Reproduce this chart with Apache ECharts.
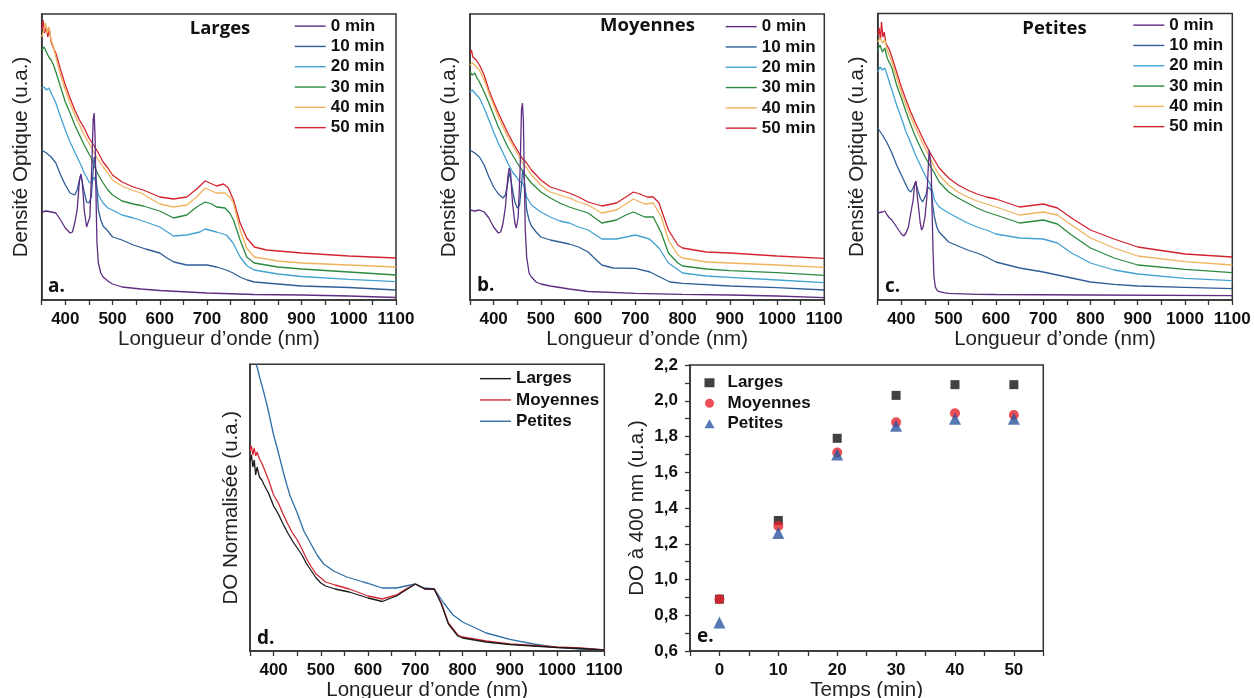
<!DOCTYPE html>
<html><head><meta charset="utf-8">
<script src="https://cdn.jsdelivr.net/npm/echarts@6/dist/echarts.min.js"></script>
<style>html,body{margin:0;padding:0;background:#fff}#c{width:1254px;height:698px}</style>
</head><body><div id="c"></div>
<script>
// ---------- DATA (wavelength nm, optical density in arbitrary units) ----------
const timeLabels = ['0 min','10 min','20 min','30 min','40 min','50 min'];
const sizeLabels = ['Larges','Moyennes','Petites'];

// Panel a — Larges
const a0 = [[350,88],[360,89],[370,88],[380,87],[390,80],[400,72],[410,67],[415,68],[420,77],[425,90],[430,120],[433,126],[436,117],[440,90],[445,73],[448,71],[452,83],[456,133],[459,180],[461,187],[463,163],[465,103],[467,57],[470,37],[475,27],[480,23],[490,19],[500,16],[520,13],[560,11],[600,9.5],[700,7],[800,5.5],[900,5],[1000,4],[1100,2.5]];
const a10 = [[350,150],[360,147],[370,143],[380,137],[390,125],[400,115],[410,107],[415,106],[420,105],[425,110],[430,120],[433,125],[436,123],[440,108],[445,98],[450,97],[455,103],[458,123],[461,143],[463,140],[465,123],[468,103],[470,90],[475,80],[480,74],[490,69],[500,63],[520,60],[544,55],[570,51],[600,47],[615,42],[630,38],[657,35],[700,35],[720,33],[741,30],[755,27],[770,23],[785,20],[800,18],[850,16],[900,14],[1000,12.5],[1100,10]];
const a20 = [[350,212],[355,213],[360,210],[365,212],[370,207],[380,197],[390,183],[400,170],[410,158],[420,148],[430,138],[435,133],[440,127],[445,123],[450,118],[455,117],[458,120],[461,123],[465,117],[470,105],[480,97],[490,92],[500,90],[520,85],[544,82],[570,78],[600,73],[629,64],[657,65],[685,68],[696,71],[720,68],[741,65],[755,57],[770,43],[785,34],[800,30],[850,26],[900,23.5],[1000,20.7],[1100,18.3]];
const a30 = [[350,250],[355,253],[360,248],[365,243],[370,240],[375,235],[380,228],[390,213],[400,198],[410,187],[420,175],[430,165],[440,155],[450,146],[455,142],[460,135],[465,130],[470,125],[480,117],[490,110],[500,105],[520,99],[544,96],[565,94],[600,89],[629,82],[657,85],[678,93],[696,98],[710,96],[720,93],[738,92],[748,87],[756,80],[770,60],[784,43],[800,37],[850,33],[900,31],[1000,28],[1100,25]];
const a40 = [[350,263],[355,270],[358,277],[362,267],[365,273],[370,260],[375,253],[380,243],[390,225],[400,210],[410,197],[420,185],[430,175],[440,165],[450,157],[460,148],[470,140],[480,133],[490,127],[500,120],[520,114],[540,110],[560,107],[600,96],[629,93],[657,95],[678,103],[696,112],[710,109],[720,107],[738,107],[748,103],[756,97],[770,70],[784,52],[800,43],[850,39],[900,37],[1000,35],[1100,33]];
const a50 = [[350,270],[353,280],[356,267],[360,273],[363,263],[366,272],[370,258],[375,252],[380,247],[390,230],[400,215],[410,202],[420,190],[430,180],[440,172],[450,162],[460,155],[470,147],[480,138],[490,132],[500,125],[520,118],[544,113],[565,110],[600,103],[629,101],[657,103],[678,111],[696,119],[706,117],[720,114],[735,116],[745,112],[756,100],[770,77],[784,62],[800,53],[826,50],[900,47],[1000,44],[1100,42]];

// Panel b — Moyennes
const b0 = [[350,90],[360,89],[370,90],[380,88],[390,82],[400,73],[410,67],[415,68],[420,77],[425,93],[430,123],[433,132],[436,127],[440,97],[445,77],[448,72],[452,83],[456,130],[459,190],[461,197],[463,180],[465,123],[467,70],[470,43],[475,27],[480,23],[490,18],[500,16],[520,14],[560,11],[600,8.5],[700,6.7],[800,5.7],[900,5],[1000,4],[1100,2.3]];
const b10 = [[350,150],[360,147],[370,143],[380,135],[390,123],[400,113],[410,106],[420,102],[425,105],[430,117],[433,127],[436,122],[440,110],[445,98],[450,92],[455,95],[458,110],[461,127],[463,130],[465,120],[468,103],[470,90],[475,80],[480,74],[490,68],[500,63],[520,60],[540,58],[560,56],[580,53],[600,48],[611,43],[629,35],[653,32],[700,31.7],[731,28],[752,23],[773,18],[800,16.7],[900,14],[1000,12.3],[1100,10]];
const b20 = [[350,208],[355,210],[360,207],[370,202],[380,192],[390,180],[400,168],[410,157],[420,147],[430,137],[440,128],[450,122],[455,118],[460,118],[465,113],[470,103],[480,95],[500,88],[520,83],[540,79],[560,77],[580,73],[600,70],[629,61],[660,61],[700,65],[730,61],[750,52],[770,37],[800,27],[850,24],[900,22.7],[1000,20],[1100,17.3]];
const b30 = [[350,228],[355,225],[360,227],[365,222],[370,218],[380,208],[390,197],[400,185],[410,173],[420,163],[430,153],[440,145],[450,137],[460,130],[470,123],[480,117],[500,108],[520,102],[540,97],[560,93],[580,90],[600,87],[629,77],[660,80],[680,85],[696,88],[720,83],[738,83],[755,67],[770,47],[790,37],[800,34],[850,31],[900,29.3],[1000,27.3],[1100,24.7]];
const b40 = [[350,235],[355,237],[360,235],[370,230],[380,220],[390,207],[400,195],[410,183],[420,173],[430,163],[440,155],[450,147],[460,138],[470,132],[480,125],[500,115],[520,108],[540,105],[560,102],[580,98],[600,95],[629,87],[660,90],[680,96],[696,101],[720,96],[738,97],[755,83],[770,60],[790,45],[800,42],[850,38],[900,37],[1000,35],[1100,32.7]];
const b50 = [[350,247],[353,250],[356,243],[360,245],[363,240],[366,242],[370,235],[380,225],[390,210],[400,198],[410,187],[420,177],[430,167],[440,158],[450,150],[460,142],[470,137],[480,130],[500,120],[520,113],[540,110],[560,107],[580,103],[600,98],[629,94],[660,97],[680,103],[696,108],[710,106],[725,103],[738,103],[750,97],[770,70],[790,55],[800,52],[850,48],[900,47],[1000,44],[1100,41.7]];

// Panel c — Petites
const c0 = [[350,87],[360,88],[365,89],[370,85],[375,82],[380,80],[390,73],[400,66],[405,64],[410,67],[415,73],[420,87],[425,100],[428,115],[431,119],[434,103],[437,90],[440,77],[443,70],[446,73],[450,83],[454,103],[457,133],[459,150],[461,151],[463,133],[465,90],[467,50],[469,23],[472,13],[475,10],[480,8.3],[490,7.3],[500,6.7],[560,5.7],[600,5.5],[800,5],[1100,4.3]];
const c10 = [[350,172],[360,165],[370,157],[380,147],[390,135],[400,125],[410,115],[415,110],[420,108],[423,110],[426,113],[430,118],[433,117],[436,108],[440,102],[445,98],[448,98],[452,105],[456,113],[460,115],[463,110],[467,93],[470,83],[475,73],[480,68],[490,63],[500,58],[520,54],[540,50],[560,47],[580,43],[600,38],[650,32],[700,28],[750,23],[800,18],[850,15.7],[900,14],[1000,12.7],[1100,11.3]];
const c20 = [[350,228],[355,233],[360,230],[365,232],[370,225],[380,210],[390,195],[400,182],[410,168],[420,157],[430,145],[440,135],[450,125],[455,120],[460,117],[465,110],[470,100],[480,93],[500,87],[520,82],[540,77],[560,73],[580,70],[600,66],[650,62],[700,61],[730,57],[760,47],[800,37],[850,30],[900,26],[1000,21.7],[1100,19.3]];
const c30 = [[350,250],[355,255],[360,248],[365,252],[370,242],[375,237],[380,232],[390,215],[400,202],[410,188],[420,175],[430,163],[440,153],[450,143],[460,135],[470,127],[480,118],[500,108],[520,102],[540,97],[560,92],[580,88],[600,85],[650,77],[700,80],[730,76],[760,65],[800,52],[850,42],[900,35],[1000,30.7],[1100,27.3]];
const c40 = [[350,258],[355,262],[360,257],[365,260],[370,250],[380,238],[390,223],[400,208],[410,195],[420,183],[430,172],[440,162],[450,152],[460,143],[470,133],[480,125],[500,115],[520,108],[540,103],[560,99],[580,96],[600,93],[650,85],[700,88],[730,85],[760,75],[800,62],[850,52],[900,44],[1000,38.3],[1100,35]];
const c50 = [[350,265],[353,272],[356,260],[358,278],[361,263],[364,268],[367,257],[370,258],[375,250],[380,243],[390,228],[400,213],[410,200],[420,188],[430,177],[440,167],[450,157],[460,148],[470,140],[480,132],[500,122],[520,115],[540,110],[560,106],[580,103],[600,101],[650,93],[700,96],[730,92],[760,82],[800,70],[850,61],[900,53],[1000,46],[1100,43]];

// Panel d — normalised spectra
const dLarges = [[350,190],[353,196],[356,184],[359,191],[362,176],[365,184],[368,178],[370,174],[375,171],[380,166],[390,157],[400,145],[410,137],[420,127],[430,118],[440,110],[450,103],[460,96],[470,87],[480,80],[490,73],[500,68],[510,65],[530,62],[560,59],[600,53],[630,49.5],[660,55],[680,61],[700,67],[720,62],[740,62],[755,47],[770,27],[790,15],[800,13],[850,9],[900,6.5],[1000,3.5],[1050,2.5],[1100,1]];
const dMoyennes = [[350,200],[353,205],[356,196],[359,203],[362,195],[365,199],[370,192],[375,188],[380,182],[390,170],[400,156],[410,148],[420,137],[430,127],[440,118],[450,111],[460,102],[470,92],[480,84],[490,77],[500,73],[510,69],[530,66],[560,62],[600,55],[630,52],[660,56],[680,62],[700,67],[720,62],[740,62],[755,48],[770,28],[790,16],[800,14],[850,10],[900,7],[1000,4],[1050,3],[1100,1]];
const dPetites = [[350,300],[355,293],[360,290],[365,284],[372,271],[379,259],[386,246],[393,231],[400,216],[407,204],[414,191],[421,178],[428,166],[435,155],[450,138],[464,120],[478,108],[492,96],[506,87],[527,80],[555,74],[590,69],[600,67.7],[630,63],[660,63],[690,66],[700,67],[720,63],[740,62],[760,48],[780,36],[800,29],[850,18],[900,11.7],[950,7],[1000,3.7],[1050,2],[1100,1]];

// Panel e — DO at 400 nm vs time
const times = [0,10,20,30,40,50];
const eLarges = [0.89,1.33,1.79,2.03,2.09,2.09];
const eMoyennes = [0.89,1.30,1.71,1.88,1.93,1.92];
const ePetites = [0.76,1.26,1.70,1.86,1.90,1.90];

// ---------- STYLE ----------
const timeColors = ['#5e2d82','#2f5f98','#43a2d4','#2b8a3f','#efb35c','#d4222f'];
const sizeColors = ['#1a1a1a','#d42a36','#2f6ea6'];
const FONT = '"Liberation Sans", Arial, sans-serif';
const OPEN = '"Open Sans", "Liberation Sans", sans-serif';
const AX = '#333';

const chart = echarts.init(document.getElementById('c'), null, {renderer:'canvas'});

const grids = [
  {left:41.7, top:14, width:354.3, height:286},
  {left:470, top:14, width:354.3, height:286},
  {left:877.7, top:13.5, width:354.6, height:286.5},
  {left:250, top:364.3, width:354.3, height:286.7},
  {left:690, top:365, width:353.3, height:286}
].map(g => Object.assign({show:true, borderColor:AX, borderWidth:1.5, backgroundColor:'transparent',
  containLabel:false, outerBoundsMode:'none'}, g));

function specX(i, gap){
  return {gridIndex:i, type:'value', min:350, max:1100, interval:50,
    axisLine:{show:true, onZero:false, lineStyle:{color:AX, width:1.5}},
    axisTick:{show:true, length:5, lineStyle:{color:AX, width:1.3}},
    axisLabel:{formatter:v => (v % 100 === 0 ? String(v) : ''), fontSize:17, fontWeight:'bold', color:'#111', fontFamily:FONT, margin:11},
    splitLine:{show:false},
    name:'Longueur d\u2019onde (nm)', nameLocation:'middle', nameGap:gap,
    nameTextStyle:{fontSize:20.5, color:'#222', fontFamily:FONT}};
}
function specY(i, max, name, gap){
  return {gridIndex:i, type:'value', min:0, max:max,
    axisLine:{show:true, onZero:false, lineStyle:{color:AX, width:1.5}},
    axisTick:{show:false}, axisLabel:{show:false}, splitLine:{show:false},
    name:name, nameLocation:'middle', nameGap:gap,
    nameTextStyle:{fontSize:20.5, color:'#222', fontFamily:FONT}};
}

const xAxis = [specX(0,29), specX(1,29), specX(2,29), specX(3,29),
  {gridIndex:4, type:'value', min:-5, max:55, interval:5,
   axisLine:{show:true, onZero:false, lineStyle:{color:AX, width:1.5}},
   axisTick:{show:true, length:5, lineStyle:{color:AX, width:1.3}},
   axisLabel:{formatter:v => (v >= 0 && v % 10 === 0 ? String(v) : ''), fontSize:17, fontWeight:'bold', color:'#111', fontFamily:FONT, margin:11},
   splitLine:{show:false},
   name:'Temps (min)', nameLocation:'middle', nameGap:28,
   nameTextStyle:{fontSize:20.5, color:'#222', fontFamily:FONT}}];

const yAxis = [specY(0,286,'Densit\u00e9 Optique (u.a.)',10), specY(1,286,'Densit\u00e9 Optique (u.a.)',10),
  specY(2,286.5,'Densit\u00e9 Optique (u.a.)',10), specY(3,286.7,'DO Normalis\u00e9e (u.a.)',8),
  {gridIndex:4, type:'value', min:0.6, max:2.2, interval:0.1,
   axisLine:{show:true, onZero:false, lineStyle:{color:AX, width:1.5}},
   axisTick:{show:true, length:5, lineStyle:{color:AX, width:1.3}},
   axisLabel:{formatter:v => { const k = Math.round(v*10); return k % 2 === 0 ? (k/10).toFixed(1).replace('.', ',') : ''; },
     fontSize:17, fontWeight:'bold', color:'#111', fontFamily:FONT, margin:12},
   splitLine:{show:false},
   name:'DO \u00e0 400 nm (u.a.)', nameLocation:'middle', nameGap:42,
   nameTextStyle:{fontSize:20.5, color:'#222', fontFamily:FONT}}];

const series = [];
const panelSets = [[a0,a10,a20,a30,a40,a50],[b0,b10,b20,b30,b40,b50],[c0,c10,c20,c30,c40,c50]];
panelSets.forEach((set, p) => {
  for (let k = set.length - 1; k >= 0; k--) {
    series.push({type:'line', name:timeLabels[k], xAxisIndex:p, yAxisIndex:p, data:set[k],
      symbol:'none', showSymbol:false, lineStyle:{width:1.3, color:timeColors[k]}, itemStyle:{color:timeColors[k]},
      z: 2 + (set.length - k), silent:true});
  }
});
[dPetites, dMoyennes, dLarges].forEach((d, j) => {
  const idx = 2 - j;
  series.push({type:'line', name:sizeLabels[idx], xAxisIndex:3, yAxisIndex:3, data:d,
    symbol:'none', showSymbol:false, lineStyle:{width:1.3, color:sizeColors[idx]}, itemStyle:{color:sizeColors[idx]}, silent:true});
});
const eSets = [eLarges, eMoyennes, ePetites];
const eSymbols = ['rect','circle','triangle'];
const eSizes = [9, 10, 12];
const eColors = ['#111111','#e8222c','#2a56a0'];
eSets.forEach((vals, j) => {
  series.push({type:'scatter', name:sizeLabels[j] + ' ', xAxisIndex:4, yAxisIndex:4,
    data: times.map((t, i) => [t, vals[i]]), symbol:eSymbols[j], symbolSize:eSizes[j],
    itemStyle:{color:eColors[j]}, z: 3 + j, silent:true});
});

const legTxt = {fontSize:17, fontWeight:'bold', color:'#111', fontFamily:FONT, lineHeight:20.3};
function lineLegend(left, top, names, lh){
  return {left:left, top:top, padding:0, orient:'vertical', itemWidth:31, itemHeight:1.4, itemGap:0,
    icon:'rect', data:names, textStyle:Object.assign({}, legTxt, {lineHeight:lh}), selectedMode:false};
}
const legend = [
  lineLegend(294.7, 16, timeLabels, 20.3),
  lineLegend(725.7, 16.5, timeLabels, 20.3),
  lineLegend(1133.3, 15, timeLabels, 20.3),
  lineLegend(480, 368, sizeLabels, 21.3),
  {left:704.5, top:372.5, padding:0, orient:'vertical', itemWidth:10, itemHeight:9, itemGap:0,
   data:sizeLabels.map((s, j) => ({name:s + ' ', icon:eSymbols[j]})),
   textStyle:Object.assign({}, legTxt, {lineHeight:20.5, padding:[0,0,0,8]}), selectedMode:false}
];

function label(text, x, y, size, align){
  return {type:'text', x:x, y:y, z:100, style:{text:text, align:align || 'center', verticalAlign:'middle',
    font:'bold ' + size + 'px ' + OPEN, fill:'#111'}};
}
const graphic = [
  label('Larges', 220, 28.7, 18.5), label('Moyennes', 647.5, 25.7, 18.5), label('Petites', 1054.5, 28.3, 18.5),
  label('a.', 48, 287, 19, 'left'), label('b.', 477, 286, 19, 'left'), label('c.', 885, 287, 19, 'left'),
  label('d.', 257, 639, 19, 'left'), label('e.', 697, 637, 19, 'left')
];

chart.setOption({animation:false, backgroundColor:'#fff', grid:grids, xAxis:xAxis, yAxis:yAxis, legend:legend, graphic:graphic, series:series});
</script>
</body></html>
